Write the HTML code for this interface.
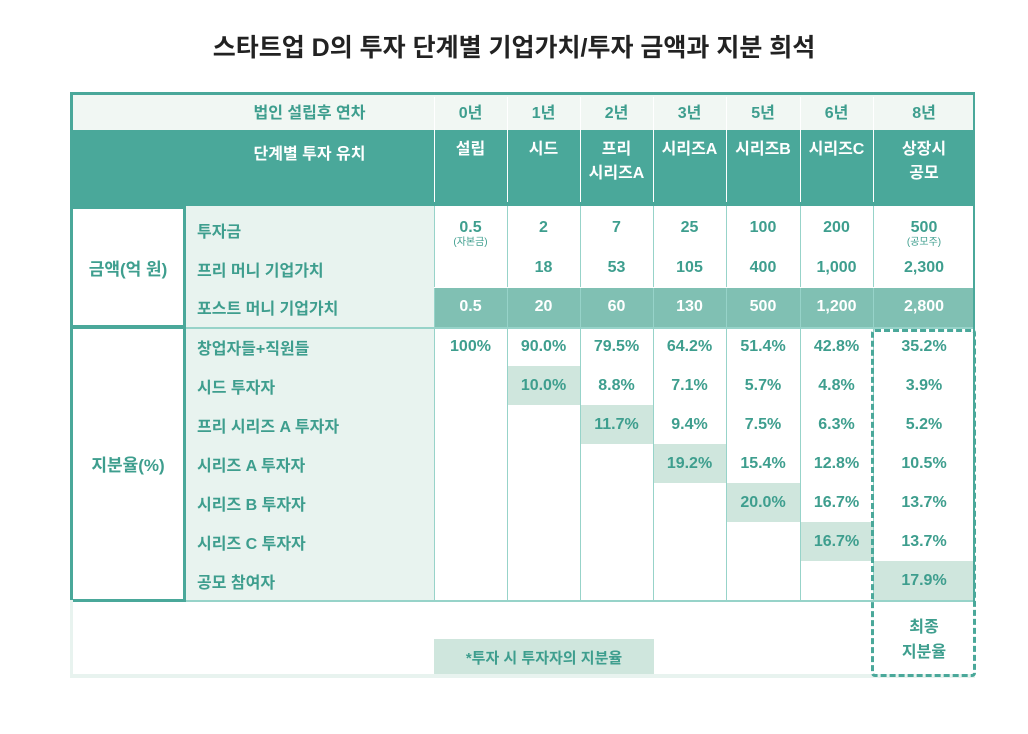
<!DOCTYPE html>
<html><head><meta charset="utf-8"><style>
body{margin:0;width:1028px;height:734px;background:#fff;font-family:"Liberation Sans","Noto Sans CJK KR",sans-serif;position:relative;overflow:hidden}
.a{position:absolute;box-sizing:border-box}
.t{color:#3e9e8e;font-weight:bold;font-size:16px}
.c{display:flex;align-items:center;justify-content:center;text-align:center}
.l{display:flex;align-items:center;padding-left:12px}
.vl{position:absolute;width:1px;background:#97d3c9}
.hl{position:absolute;height:1px;background:#97d3c9}
</style></head><body>
<div class="a" style="left:0;width:1028px;top:28px;text-align:center;font-size:25px;font-weight:bold;color:#222">스타트업 D의 투자 단계별 기업가치/투자 금액과 지분 희석</div>
<script>
const cols=[434,507,580,653,726,800,873,975];
const years=["0년","1년","2년","3년","5년","6년","8년"];
const stages=["설립","시드","프리<br>시리즈A","시리즈A","시리즈B","시리즈C","상장시<br>공모"];
const invest=["0.5","2","7","25","100","200","500"];
const investNote=["(자본금)","","","","","","(공모주)"];
const pre=["","18","53","105","400","1,000","2,300"];
const post=["0.5","20","60","130","500","1,200","2,800"];
const shareLabels=["창업자들+직원들","시드 투자자","프리 시리즈 A 투자자","시리즈 A 투자자","시리즈 B 투자자","시리즈 C 투자자","공모 참여자"];
const shares=[
["100%","90.0%","79.5%","64.2%","51.4%","42.8%","35.2%"],
["","10.0%","8.8%","7.1%","5.7%","4.8%","3.9%"],
["","","11.7%","9.4%","7.5%","6.3%","5.2%"],
["","","","19.2%","15.4%","12.8%","10.5%"],
["","","","","20.0%","16.7%","13.7%"],
["","","","","","16.7%","13.7%"],
["","","","","","","17.9%"]];
const b=document.body;
function box(x,y,w,h,cls,html,name,style){const d=document.createElement('div');d.className='a '+cls;d.style.cssText=`left:${x}px;top:${y}px;width:${w}px;height:${h}px;`+(style||'');d.innerHTML=html;


b.appendChild(d);return d;}
box(70,92,905,38,'','','header-row-bg','background:#f1f7f3');
box(70,130,905,76,'','','stage-row-bg','background:#4aa89a');
box(185,206,249,394,'','','label-col-bg','background:#e8f3ef');
box(434,287,541,40,'','','post-money-row-bg','background:#80c0b3');
for(let k=1;k<7;k++){box(cols[k],327+39*k,cols[k+1]-cols[k],39,'','','highlight-cell','background:#cfe6dd');}
box(434,639,220,36,'','','note-bg','background:#cfe6dd');
box(70,674,905,4,'','','bottom-band','background:#e8f3ef');
for(let i=0;i<cols.length-1;i++){box(cols[i],97,1,105,'vl','','header-divider','background:#fff');box(cols[i],206,1,394,'vl','','col-divider');}
box(185,327,790,2,'hl','','row-divider');box(70,600,905,2,'hl','','footer-divider');box(434,287,541,1,'hl','','post-top','background:#fff');
box(70,92,905,3,'','','outer-top','background:#4aa89a');
box(70,92,3,510,'','','outer-left','background:#4aa89a');box(973,92,2,510,'','','outer-right','background:#4aa89a');
box(70,206,116,122,'','','money-group-box','border:3px solid #4aa89a');
box(70,326,116,276,'','','share-group-box','border:3px solid #4aa89a');
box(70,600,3,78,'','','footer-left','background:#e8f3ef');
box(185,92,249,38,'t c','법인 설립후 연차','header-year-label');
box(185,130,249,44,'c','단계별 투자 유치','header-stage-label','color:#fff;font-weight:bold;font-size:16px');
years.forEach((y,i)=>box(cols[i],92,cols[i+1]-cols[i],38,'t c',y,'year-'+i));
stages.forEach((s,i)=>box(cols[i],132,cols[i+1]-cols[i],60,'a','<div style="text-align:center;line-height:24px;padding-top:6px">'+s+'</div>','stage-'+i,'color:#fff;font-weight:bold;font-size:16px;display:block'));
box(70,206,116,122,'t c','금액(억 원)','money-group-label','font-size:17px');
box(70,327,116,273,'t c','지분율(%)','share-group-label','font-size:17px');
[['투자금',210,39],['프리 머니 기업가치',248,42],['포스트 머니 기업가치',287,40]].forEach(([t,y,h],i)=>box(185,y,249,h,'t l',t,'money-row-label-'+i));
invest.forEach((v,i)=>box(cols[i],219,cols[i+1]-cols[i],40,'t','<div style="text-align:center;line-height:18px">'+v+'<div style="font-size:10px;font-weight:normal;line-height:11px">'+investNote[i]+'</div></div>','invest-'+i));
pre.forEach((v,i)=>box(cols[i],248,cols[i+1]-cols[i],40,'t c',v,'pre-money-'+i));
post.forEach((v,i)=>box(cols[i],287,cols[i+1]-cols[i],40,'c',v,'post-money-'+i,'color:#fff;font-weight:bold;font-size:16px'));
shareLabels.forEach((t,i)=>box(185,327+39*i,249,39,'t l',t,'share-row-label-'+i));
shares.forEach((r,i)=>r.forEach((v,j)=>{if(v)box(cols[j],327+39*i,cols[j+1]-cols[j],39,'t c',v,'share-'+i+'-'+j);}));
box(434,639,220,36,'t c','*투자 시 투자자의 지분율','note-text','font-size:15px');
box(873,610,102,60,'t c','최종<br>지분율','final-share-label','line-height:25px');
box(871,329,105,348,'','','final-share-dashed-box','border:3px dashed #4aa89a;border-radius:4px');
</script>
</body></html>
